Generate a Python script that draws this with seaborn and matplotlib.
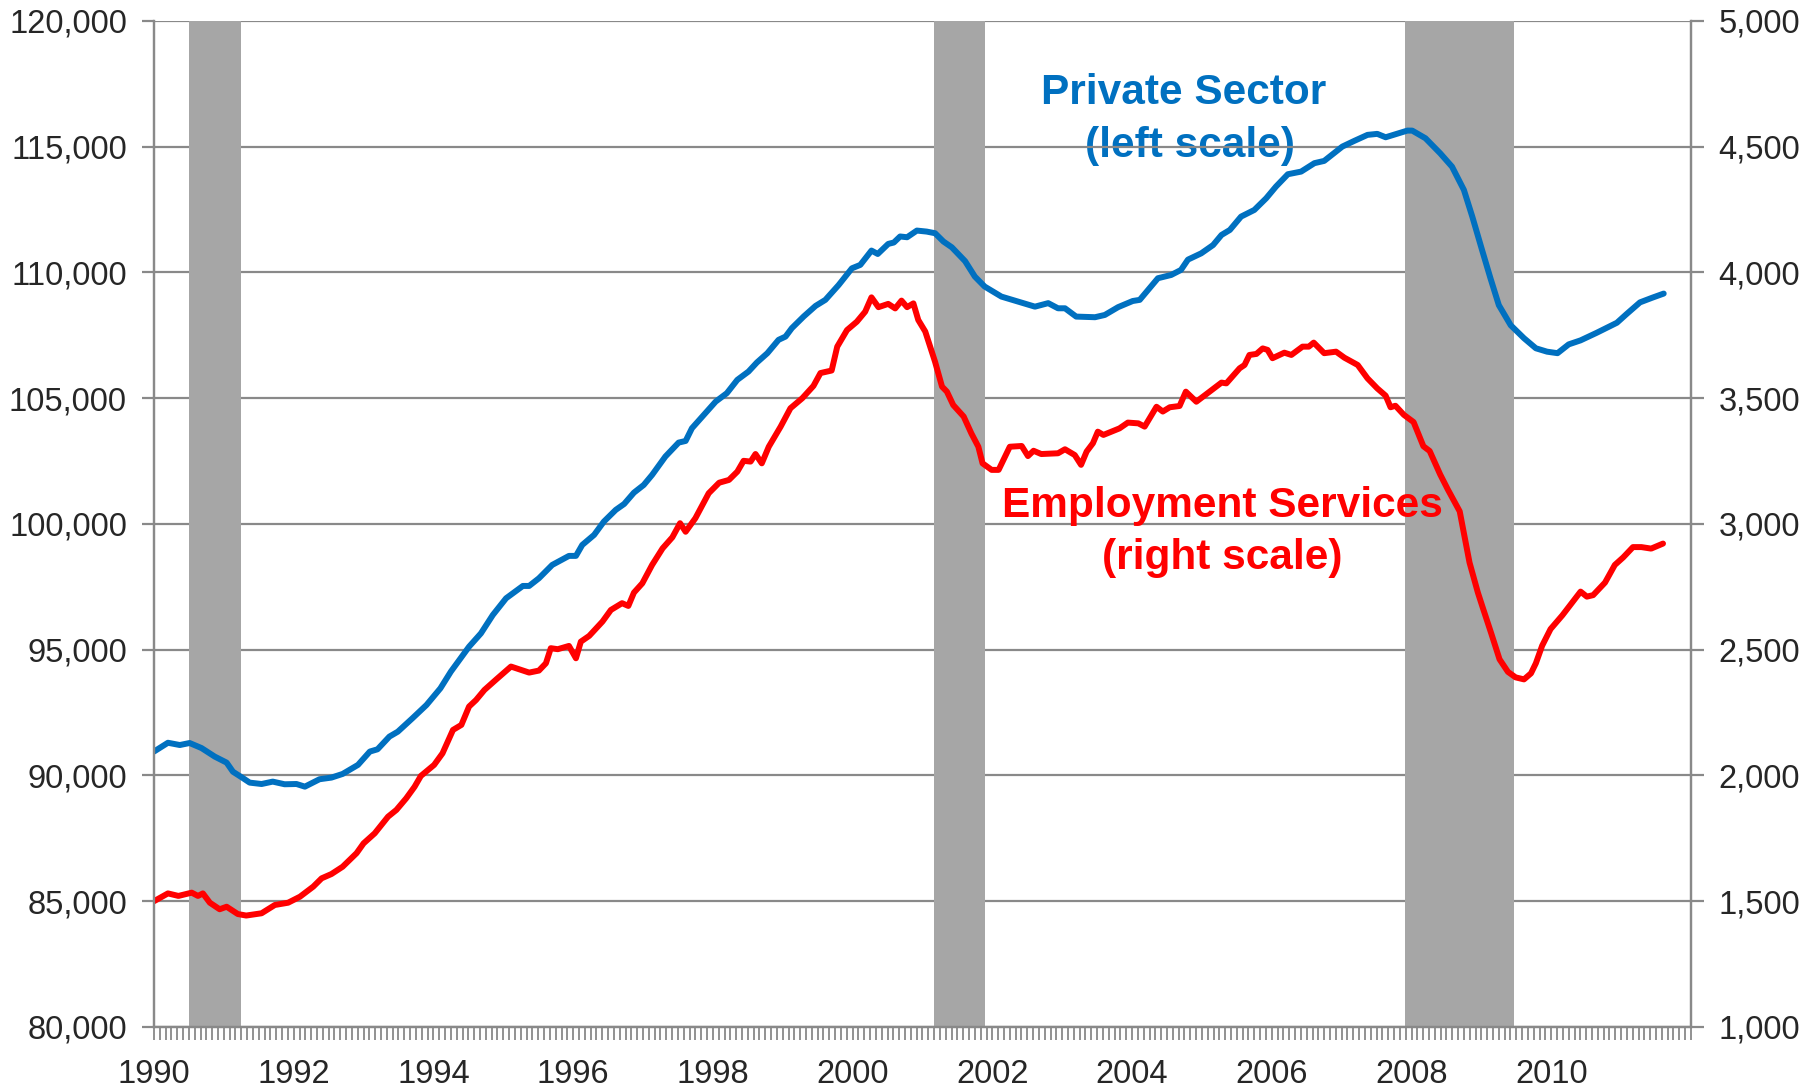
import matplotlib
matplotlib.use("Agg")
import matplotlib.pyplot as plt
import seaborn as sns
from matplotlib.ticker import FuncFormatter, MultipleLocator

# Private sector employment, thousands (left scale)
private_years = [1990.00, 1990.20, 1990.37, 1990.51, 1990.68, 1990.87, 1991.04, 1991.13, 1991.27, 1991.37,
                 1991.54, 1991.70, 1991.87, 1992.04, 1992.16, 1992.37, 1992.54, 1992.70, 1992.92, 1993.09,
                 1993.20, 1993.37, 1993.49, 1993.70, 1993.90, 1994.10, 1994.25, 1994.51, 1994.68, 1994.85,
                 1995.04, 1995.28, 1995.37, 1995.51, 1995.70, 1995.94, 1996.04, 1996.13, 1996.30, 1996.44,
                 1996.61, 1996.73, 1996.87, 1997.01, 1997.13, 1997.32, 1997.51, 1997.61, 1997.70, 1997.87,
                 1998.04, 1998.20, 1998.35, 1998.51, 1998.63, 1998.78, 1998.94, 1999.04, 1999.13, 1999.30,
                 1999.47, 1999.61, 1999.80, 1999.99, 2000.11, 2000.27, 2000.36, 2000.51, 2000.59, 2000.68,
                 2000.78, 2000.92, 2001.06, 2001.18, 2001.30, 2001.42, 2001.61, 2001.75, 2001.89, 2002.13,
                 2002.37, 2002.61, 2002.80, 2002.94, 2003.04, 2003.20, 2003.47, 2003.61, 2003.80, 2004.01,
                 2004.11, 2004.37, 2004.56, 2004.70, 2004.80, 2004.99, 2005.16, 2005.28, 2005.40, 2005.56,
                 2005.75, 2005.92, 2006.06, 2006.23, 2006.42, 2006.61, 2006.75, 2007.01, 2007.18, 2007.37,
                 2007.51, 2007.63, 2007.94, 2008.01, 2008.20, 2008.41, 2008.58, 2008.75, 2008.87, 2009.01,
                 2009.13, 2009.25, 2009.42, 2009.61, 2009.78, 2009.94, 2010.09, 2010.25, 2010.42, 2010.65,
                 2010.94, 2011.08, 2011.27, 2011.45, 2011.61]
private_jobs = [90950, 91300, 91210, 91290, 91090, 90750, 90510, 90150, 89900, 89715,
                89660, 89755, 89650, 89660, 89555, 89850, 89915, 90060, 90420, 90950,
                91040, 91545, 91740, 92275, 92800, 93465, 94130, 95120, 95650, 96380,
                97045, 97535, 97535, 97840, 98370, 98730, 98730, 99165, 99565, 100095,
                100560, 100795, 101245, 101550, 101950, 102680, 103235, 103300, 103805, 104335,
                104865, 105200, 105730, 106060, 106420, 106790, 107320, 107450, 107785, 108250,
                108670, 108910, 109500, 110165, 110300, 110870, 110735, 111135, 111190, 111430,
                111400, 111665, 111625, 111560, 111230, 111000, 110450, 109835, 109440, 109040,
                108840, 108640, 108780, 108575, 108575, 108245, 108220, 108310, 108620, 108865,
                108910, 109770, 109900, 110100, 110510, 110760, 111090, 111490, 111690, 112220,
                112485, 112950, 113415, 113905, 114010, 114345, 114435, 115005, 115230, 115470,
                115510, 115375, 115640, 115640, 115335, 114740, 114205, 113280, 112220, 110890,
                109770, 108700, 107900, 107385, 106985, 106850, 106790, 107140, 107300, 107600,
                108000, 108350, 108810, 109000, 109160]

# Employment services, thousands (right scale)
emp_years = [1990.00, 1990.20, 1990.35, 1990.54, 1990.63, 1990.70, 1990.80, 1990.94, 1991.04, 1991.20,
             1991.32, 1991.54, 1991.73, 1991.92, 1992.09, 1992.28, 1992.40, 1992.54, 1992.70, 1992.90,
             1993.00, 1993.16, 1993.35, 1993.47, 1993.61, 1993.73, 1993.82, 1994.01, 1994.13, 1994.28,
             1994.40, 1994.51, 1994.61, 1994.73, 1994.90, 1995.11, 1995.37, 1995.51, 1995.61, 1995.68,
             1995.78, 1995.94, 1996.04, 1996.11, 1996.23, 1996.42, 1996.54, 1996.70, 1996.79, 1996.87,
             1996.99, 1997.13, 1997.28, 1997.42, 1997.53, 1997.61, 1997.75, 1997.94, 1998.09, 1998.23,
             1998.35, 1998.44, 1998.54, 1998.61, 1998.70, 1998.80, 1998.97, 1999.11, 1999.28, 1999.44,
             1999.54, 1999.70, 1999.78, 1999.92, 2000.06, 2000.18, 2000.27, 2000.37, 2000.51, 2000.61,
             2000.70, 2000.78, 2000.87, 2000.94, 2001.04, 2001.18, 2001.28, 2001.35, 2001.44, 2001.59,
             2001.70, 2001.80, 2001.86, 2001.99, 2002.09, 2002.25, 2002.42, 2002.51, 2002.59, 2002.70,
             2002.94, 2003.04, 2003.18, 2003.27, 2003.35, 2003.44, 2003.51, 2003.59, 2003.82, 2003.94,
             2004.09, 2004.18, 2004.35, 2004.44, 2004.54, 2004.68, 2004.77, 2004.92, 2005.09, 2005.28,
             2005.35, 2005.54, 2005.61, 2005.68, 2005.78, 2005.87, 2005.94, 2006.01, 2006.18, 2006.28,
             2006.44, 2006.53, 2006.60, 2006.75, 2006.92, 2007.04, 2007.23, 2007.37, 2007.51, 2007.63,
             2007.70, 2007.77, 2007.89, 2008.03, 2008.17, 2008.26, 2008.41, 2008.52, 2008.69, 2008.83,
             2008.95, 2009.02, 2009.14, 2009.26, 2009.38, 2009.49, 2009.61, 2009.71, 2009.78, 2009.87,
             2009.99, 2010.16, 2010.27, 2010.42, 2010.51, 2010.60, 2010.77, 2010.91, 2011.03, 2011.17,
             2011.29, 2011.43, 2011.60]
emp_jobs = [1500, 1531, 1521, 1534, 1521, 1531, 1494, 1468, 1478, 1449,
            1443, 1452, 1485, 1494, 1518, 1558, 1591, 1608, 1637, 1691,
            1730, 1770, 1836, 1863, 1909, 1955, 1998, 2042, 2088, 2181,
            2201, 2274, 2300, 2340, 2382, 2433, 2409, 2417, 2446, 2506,
            2502, 2515, 2466, 2532, 2555, 2612, 2658, 2685, 2674, 2727,
            2764, 2837, 2903, 2947, 3003, 2969, 3023, 3122, 3164, 3175,
            3208, 3251, 3248, 3278, 3241, 3307, 3387, 3460, 3500, 3549,
            3600, 3610, 3705, 3771, 3804, 3844, 3901, 3862, 3875, 3857,
            3888, 3862, 3877, 3811, 3765, 3645, 3546, 3526, 3473, 3427,
            3360, 3307, 3241, 3215, 3215, 3307, 3310, 3270, 3291, 3278,
            3281, 3297, 3274, 3235, 3288, 3321, 3367, 3354, 3380, 3403,
            3400, 3387, 3466, 3447, 3464, 3469, 3526, 3486, 3522, 3562,
            3559, 3619, 3632, 3672, 3676, 3698, 3692, 3659, 3681, 3672,
            3705, 3705, 3721, 3679, 3685, 3661, 3632, 3579, 3539, 3510,
            3464, 3470, 3434, 3405, 3309, 3290, 3197, 3137, 3050, 2847,
            2727, 2667, 2566, 2462, 2412, 2390, 2382, 2406, 2446, 2516,
            2582, 2637, 2677, 2731, 2711, 2717, 2767, 2837, 2867, 2908,
            2908, 2902, 2922]

# recessions (start, end) in decimal years
rec_start = [1990.50, 2001.16, 2007.90]
rec_end = [1991.24, 2001.90, 2009.47]

year_ticks = list(range(1990, 2011, 2))
left_ticks = list(range(80000, 120001, 5000))
right_ticks = list(range(1000, 5001, 500))

sns.set_style("white")
plt.rcParams['font.family'] = ['Liberation Sans', 'DejaVu Sans']

gray = '#898989'
blue = '#0070c0'
red = '#ff0000'

fig = plt.figure(figsize=(18.2, 10.91), dpi=100)
ax = fig.add_axes([0.0846, 0.0587, 0.8445, 0.9221])
ax2 = ax.twinx()

for a, b in zip(rec_start, rec_end):
    ax.axvspan(a, b, color='#a6a6a6', lw=0, zorder=1)

sns.lineplot(x=private_years, y=private_jobs, ax=ax, color=blue, lw=4.3, zorder=2)
sns.lineplot(x=emp_years, y=emp_jobs, ax=ax2, color=red, lw=4.3)

ax.set_xlim(1990, 2012)
ax.set_ylim(80000, 120000)
ax2.set_ylim(1000, 5000)
ax.set_xticks(year_ticks)
ax.xaxis.set_minor_locator(MultipleLocator(1 / 12))
ax.set_yticks(left_ticks)
ax2.set_yticks(right_ticks)
comma = FuncFormatter(lambda v, p: f"{int(v):,}")
ax.yaxis.set_major_formatter(comma)
ax2.yaxis.set_major_formatter(comma)
ax.xaxis.set_major_formatter(FuncFormatter(lambda v, p: f"{int(round(v))}"))

ax.grid(axis='y', color=gray, lw=1.6)
ax.grid(axis='x', visible=False)
ax.set_axisbelow(True)
ax2.grid(False)

ax.tick_params(axis='x', which='both', direction='out', length=9, width=1.3, color=gray,
               labelsize=23.5, pad=14, bottom=True)
ax.tick_params(axis='y', direction='out', length=9, width=1.6, color=gray, labelsize=23.5, pad=10.5, left=True)
ax2.tick_params(axis='y', direction='out', length=9, width=1.6, color=gray, labelsize=23.5, pad=11, right=True)

for a in (ax, ax2):
    a.spines['top'].set_visible(False)
    for s in ('left', 'right', 'bottom'):
        a.spines[s].set_color(gray)
        a.spines[s].set_linewidth(1.6)
    a.set_xlabel('')
    a.set_ylabel('')

ax.text(0.670, 0.928, 'Private Sector', transform=ax.transAxes, ha='center', va='center',
        fontsize=30.5, fontweight='bold', color=blue, zorder=0.3)
ax.text(0.674, 0.876, '(left scale)', transform=ax.transAxes, ha='center', va='center',
        fontsize=30.5, fontweight='bold', color=blue, zorder=0.3)
ax2.text(0.695, 0.518, 'Employment Services', transform=ax2.transAxes, ha='center', va='center',
         fontsize=30.5, fontweight='bold', color=red)
ax2.text(0.695, 0.466, '(right scale)', transform=ax2.transAxes, ha='center', va='center',
         fontsize=30.5, fontweight='bold', color=red)

plt.savefig('out.png', dpi=100)
